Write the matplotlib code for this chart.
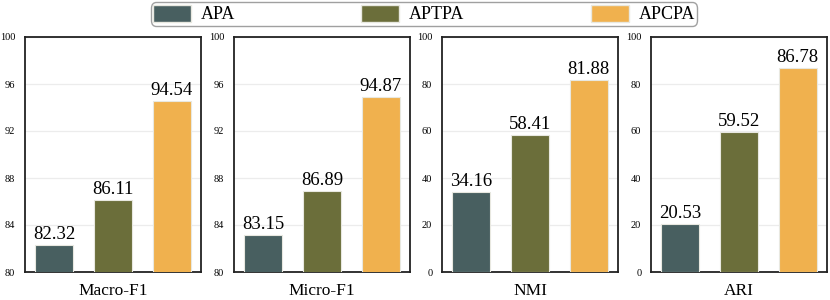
import matplotlib
matplotlib.use("Agg")
import matplotlib.pyplot as plt
from matplotlib.patches import Patch

plt.rcParams['font.family'] = ['Liberation Serif', 'DejaVu Serif']

# data
metrics = ["Macro-F1", "Micro-F1", "NMI", "ARI"]
variants = ["APA", "APTPA", "APCPA"]
apa = [82.32, 83.15, 34.16, 20.53]
aptpa = [86.11, 86.89, 58.41, 59.52]
apcpa = [94.54, 94.87, 81.88, 86.78]
ylims = [(80, 100), (80, 100), (0, 100), (0, 100)]
yticks = [[80, 84, 88, 92, 96, 100], [80, 84, 88, 92, 96, 100],
          [0, 20, 40, 60, 80, 100], [0, 20, 40, 60, 80, 100]]

colors = ["#485f60", "#6b6e3a", "#f0b14e"]

fig = plt.figure(figsize=(8.3, 3.0), dpi=100)

# axes positions in pixels (left, right)
lefts = [25, 234, 442, 651]
width_px = 176
top_px, bottom_px = 37, 272

for i, m in enumerate(metrics):
    ax = fig.add_axes([lefts[i] / 830, 1 - bottom_px / 300,
                       width_px / 830, (bottom_px - top_px) / 300])
    vals = [apa[i], aptpa[i], apcpa[i]]
    bars = ax.bar(range(3), vals, width=0.65, color=colors,
                  edgecolor="#e8e8e0", linewidth=0.8, zorder=3)
    for b, v in zip(bars, vals):
        ax.text(b.get_x() + b.get_width() / 2, v + (ylims[i][1] - ylims[i][0]) * 0.008,
                f"{v:.2f}", ha="center", va="bottom", fontsize=13.5, zorder=4)
    ax.set_xlim(-0.5, 2.5)
    ax.set_ylim(*ylims[i])
    ax.set_yticks(yticks[i])
    ax.set_xticks([])
    ax.tick_params(axis="y", length=0, labelsize=7.5, pad=7)
    ax.yaxis.grid(True, color="#ececec", linewidth=0.9, zorder=0)
    ax.set_axisbelow(True)
    for s in ax.spines.values():
        s.set_linewidth(1.3)
        s.set_color("#222222")
    ax.set_xlabel(m, fontsize=12.5, labelpad=8)

handles = [Patch(facecolor=c, edgecolor="#e8e8e0", label=v) for c, v in zip(colors, variants)]
leg = fig.legend(handles=handles, loc="upper center", bbox_to_anchor=(424 / 830, 0.998),
                 ncol=3, fontsize=13, frameon=True, fancybox=True,
                 handlelength=2.1, handleheight=1.1, columnspacing=7.0,
                 handletextpad=0.55, borderpad=0.12, borderaxespad=0.1,
                 edgecolor="#888888")
leg.get_frame().set_linewidth(1.0)
leg.get_frame().set_boxstyle("round", pad=0.0, rounding_size=0.3)

fig.savefig("out.png", dpi=100)
